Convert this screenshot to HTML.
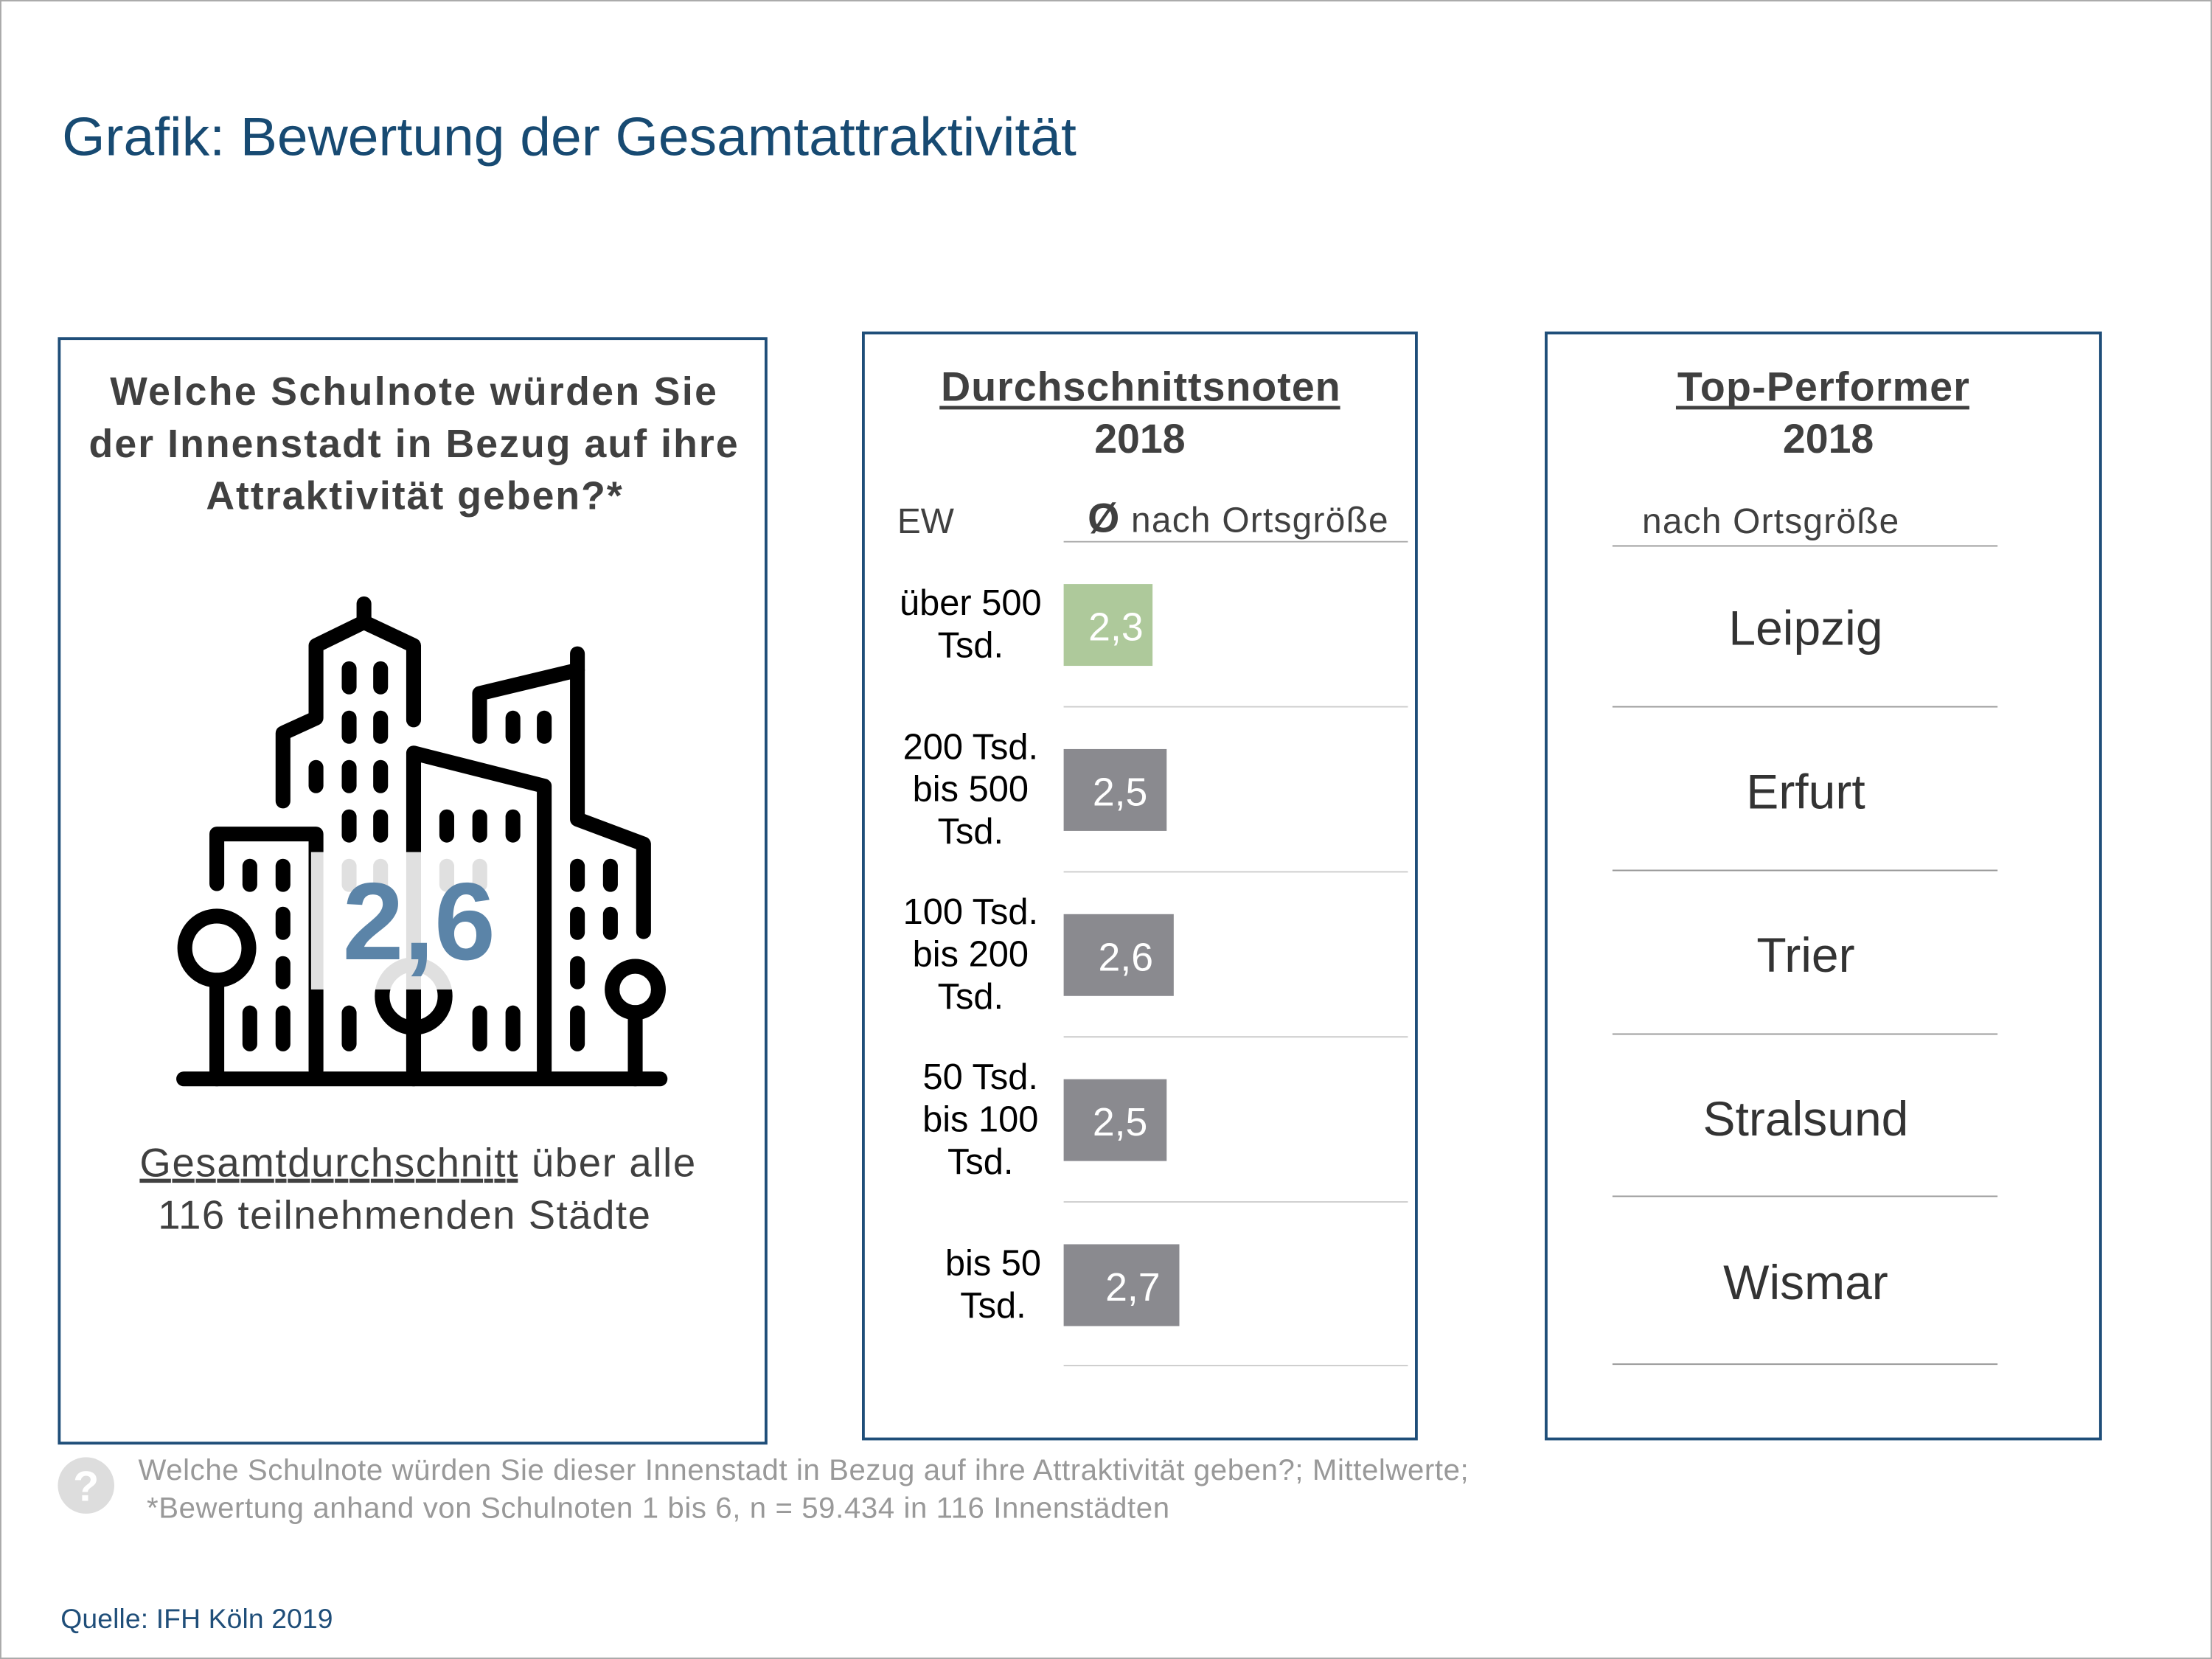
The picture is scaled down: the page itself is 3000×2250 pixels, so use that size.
<!DOCTYPE html>
<html><head><meta charset="utf-8"><style>html,body{margin:0;padding:0;background:#fff}svg{display:block}</style></head>
<body>
<svg xmlns="http://www.w3.org/2000/svg" width="3000" height="2250" viewBox="0 0 1568 1176" font-family="'Liberation Sans', Arial, sans-serif">
<rect x="0.5" y="0.5" width="1567" height="1175" fill="#fff" stroke="#aaa" stroke-width="1"/>
<text x="44" y="110" font-size="38.5" fill="#174a72" textLength="719" lengthAdjust="spacingAndGlyphs">Grafik: Bewertung der Gesamtattraktivität</text>

<rect x="42" y="240" width="501" height="783" fill="none" stroke="#1f4e79" stroke-width="2"/>
<rect x="612" y="236" width="392" height="784" fill="none" stroke="#1f4e79" stroke-width="2"/>
<rect x="1096" y="236" width="393" height="784" fill="none" stroke="#1f4e79" stroke-width="2"/>

<g font-size="28" font-weight="bold" fill="#404040">
<text x="78" y="287" textLength="430">Welche Schulnote würden Sie</text>
<text x="63" y="324" textLength="460">der Innenstadt in Bezug auf ihre</text>
<text x="146" y="361" textLength="295">Attraktivität geben?*</text>
</g>

<g fill="none" stroke="#000" stroke-width="10.5" stroke-linecap="round" stroke-linejoin="round">
<polyline points="200.6,567.8 200.6,519.7 224,509 224,457.6 258,441 293.2,457.6 293.2,510.3"/>
<line x1="258" y1="441" x2="258" y2="428"/>
<polyline points="340,522 340,491.6 409.3,475"/>
<polyline points="409.3,463.4 409.3,580.7 456.2,598.3 456.2,660.4"/>
<polyline points="293.2,758.9 293.2,533.8 385.8,557.2 385.8,758.9"/>
<polyline points="153.7,626.4 153.7,591.2 224,591.2 224,758.9"/>
<line x1="130.2" y1="764.8" x2="467.9" y2="764.8"/>
<circle cx="153.7" cy="672.1" r="22.7"/>
<line x1="153.7" y1="694.8" x2="153.7" y2="764.8"/>
<circle cx="293.2" cy="706.1" r="22.3"/>
<line x1="293.2" y1="728.4" x2="293.2" y2="764.8"/>
<circle cx="450.3" cy="701.4" r="16.4"/>
<line x1="450.3" y1="717.8" x2="450.3" y2="764.8"/>
<g stroke-width="10.5">
<line x1="247.5" y1="474" x2="247.5" y2="487"/><line x1="269.8" y1="474" x2="269.8" y2="487"/>
<line x1="247.5" y1="509" x2="247.5" y2="522"/><line x1="269.8" y1="509" x2="269.8" y2="522"/>
<line x1="247.5" y1="544" x2="247.5" y2="557"/><line x1="269.8" y1="544" x2="269.8" y2="557"/>
<line x1="224" y1="544" x2="224" y2="557"/>
<line x1="247.5" y1="579" x2="247.5" y2="592"/><line x1="269.8" y1="579" x2="269.8" y2="592"/>
<line x1="363.6" y1="509" x2="363.6" y2="522"/><line x1="385.8" y1="509" x2="385.8" y2="522"/>
<line x1="316.7" y1="579" x2="316.7" y2="592"/><line x1="340.1" y1="579" x2="340.1" y2="592"/><line x1="363.6" y1="579" x2="363.6" y2="592"/>
<line x1="177.1" y1="614" x2="177.1" y2="627"/><line x1="200.6" y1="614" x2="200.6" y2="627"/>
<line x1="200.6" y1="648" x2="200.6" y2="661"/><line x1="200.6" y1="683" x2="200.6" y2="696"/>
<line x1="177.1" y1="718" x2="177.1" y2="740"/><line x1="200.6" y1="718" x2="200.6" y2="740"/>
<line x1="247.5" y1="718" x2="247.5" y2="740"/>
<line x1="340.1" y1="718" x2="340.1" y2="740"/><line x1="363.6" y1="718" x2="363.6" y2="740"/>
<line x1="409.3" y1="614" x2="409.3" y2="627"/><line x1="432.7" y1="614" x2="432.7" y2="627"/>
<line x1="409.3" y1="648" x2="409.3" y2="661"/><line x1="432.7" y1="648" x2="432.7" y2="661"/>
<line x1="409.3" y1="683" x2="409.3" y2="696"/><line x1="409.3" y1="718" x2="409.3" y2="740"/>
<line x1="247.5" y1="614" x2="247.5" y2="627"/><line x1="269.8" y1="614" x2="269.8" y2="627"/>
<line x1="316.7" y1="614" x2="316.7" y2="627"/><line x1="340.1" y1="614" x2="340.1" y2="627"/>
</g>
</g>
<rect x="220.5" y="604" width="149" height="97.4" fill="#fff" opacity="0.88"/>
<text x="297" y="680" font-size="78" font-weight="bold" fill="#5b84a8" text-anchor="middle">2,6</text>

<text x="99" y="834" font-size="28.5" fill="#404040" textLength="394"><tspan text-decoration="underline">Gesamtdurchschnitt</tspan> über alle</text>
<text x="112" y="871" font-size="28.5" fill="#404040" textLength="349">116 teilnehmenden Städte</text>

<g fill="#404040" font-weight="bold" font-size="29">
<text x="667" y="284" textLength="283">Durchschnittsnoten</text>
<text x="808" y="321" text-anchor="middle">2018</text>
</g>
<line x1="666" y1="289" x2="950" y2="289" stroke="#404040" stroke-width="2.5"/>
<text x="636" y="378" font-size="25" fill="#404040">EW</text>
<text x="771" y="377" font-size="25" fill="#404040" textLength="213"><tspan font-weight="bold" font-size="29">Ø</tspan> nach Ortsgröße</text>
<g stroke="#ccc" stroke-width="1">
<line x1="754" y1="384" x2="998" y2="384" stroke="#aaa"/>
<line x1="754" y1="501" x2="998" y2="501"/><line x1="754" y1="618" x2="998" y2="618"/>
<line x1="754" y1="735" x2="998" y2="735"/><line x1="754" y1="852" x2="998" y2="852"/>
<line x1="754" y1="968" x2="998" y2="968"/>
</g>
<rect x="754" y="414" width="63" height="58" fill="#aec99b"/>
<rect x="754" y="531" width="73" height="58" fill="#8a8a8f"/>
<rect x="754" y="648" width="78" height="58" fill="#8a8a8f"/>
<rect x="754" y="765" width="73" height="58" fill="#8a8a8f"/>
<rect x="754" y="882" width="82" height="58" fill="#8a8a8f"/>
<g fill="#fff" font-size="28" text-anchor="middle">
<text x="791" y="454">2,3</text><text x="794" y="571">2,5</text><text x="798" y="688">2,6</text>
<text x="794" y="805">2,5</text><text x="803" y="922">2,7</text>
</g>
<g fill="#000" font-size="25.5" text-anchor="middle">
<text x="688" y="436">über 500</text><text x="688" y="466">Tsd.</text>
<text x="688" y="538">200 Tsd.</text><text x="688" y="568">bis 500</text><text x="688" y="598">Tsd.</text>
<text x="688" y="655">100 Tsd.</text><text x="688" y="685">bis 200</text><text x="688" y="715">Tsd.</text>
<text x="695" y="772">50 Tsd.</text><text x="695" y="802">bis 100</text><text x="695" y="832">Tsd.</text>
<text x="704" y="904">bis 50</text><text x="704" y="934">Tsd.</text>
</g>

<g fill="#404040" font-weight="bold" font-size="29">
<text x="1189" y="284" textLength="207">Top-Performer</text>
<text x="1296" y="321" text-anchor="middle">2018</text>
</g>
<line x1="1188" y1="289" x2="1396" y2="289" stroke="#404040" stroke-width="2.5"/>
<text x="1164" y="378" font-size="25" fill="#404040" textLength="182">nach Ortsgröße</text>
<g stroke="#999" stroke-width="1">
<line x1="1143" y1="387" x2="1416" y2="387"/><line x1="1143" y1="501" x2="1416" y2="501"/>
<line x1="1143" y1="617" x2="1416" y2="617"/><line x1="1143" y1="733" x2="1416" y2="733"/>
<line x1="1143" y1="848" x2="1416" y2="848"/><line x1="1143" y1="967" x2="1416" y2="967"/>
</g>
<g fill="#333" font-size="34.5" text-anchor="middle">
<text x="1280" y="457">Leipzig</text><text x="1280" y="573">Erfurt</text><text x="1280" y="689">Trier</text>
<text x="1280" y="805">Stralsund</text><text x="1280" y="921">Wismar</text>
</g>

<circle cx="61" cy="1053" r="20" fill="#ddd"/>
<text x="61" y="1064" font-size="30" font-weight="bold" fill="#fff" text-anchor="middle">?</text>
<text x="98" y="1049" font-size="21" fill="#999" textLength="943">Welche Schulnote würden Sie dieser Innenstadt in Bezug auf ihre Attraktivität geben?; Mittelwerte;</text>
<text x="104" y="1076" font-size="21" fill="#999" textLength="725">*Bewertung anhand von Schulnoten 1 bis 6, n = 59.434 in 116 Innenstädten</text>
<text x="43" y="1154" font-size="19.5" fill="#1f4e79" textLength="193">Quelle: IFH Köln 2019</text>
</svg>
</body></html>
